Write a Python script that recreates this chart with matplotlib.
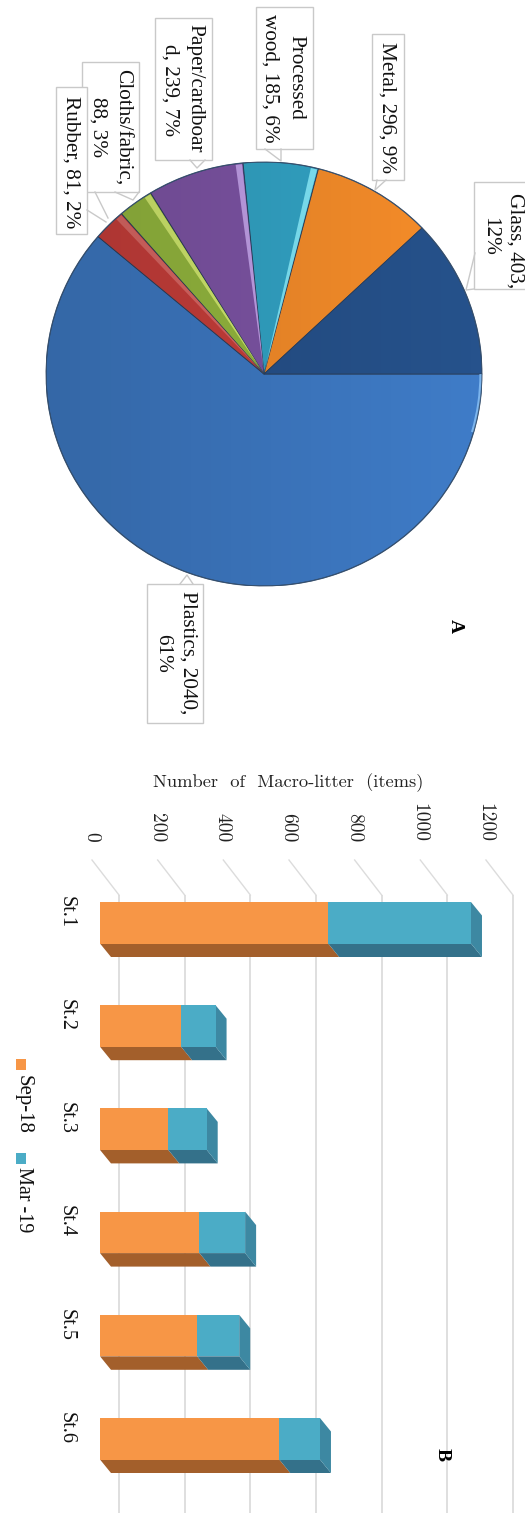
import numpy as np
import matplotlib
matplotlib.use('Agg')
import matplotlib.pyplot as plt
from matplotlib.patches import Wedge, Polygon, Rectangle

## ------------ data -----------
materials = ['Plastics', 'Rubber', 'Cloths/fabric', 'Paper/cardboard', 'Processed wood', 'Metal', 'Glass']
items = [2040, 81, 88, 239, 185, 296, 403]

stations = ['St.1', 'St.2', 'St.3', 'St.4', 'St.5', 'St.6']
sep18 = [695, 247, 208, 303, 296, 546]
mar19 = [435, 105, 117, 139, 128, 124]
ticks = [0, 200, 400, 600, 800, 1000, 1200]

## ------------ styles -----------
W, H = 525, 1513
serif = 'Liberation Serif'
pie_colors = ['#3f7cc8', '#cc403c', '#98bc40', '#8056a8', '#33a6c8', '#f88e2a', '#26528c']
light_colors = ['#5b9be6', '#e06a66', '#d6ee70', '#c4a2ec', '#80e8fa', '#f9b066', '#3c6ca8']


def px_axes(left, top, right, bottom):
    return fig.add_axes([left / W, 1 - bottom / H, (right - left) / W, (bottom - top) / H])


fig = plt.figure(figsize=(W / 100, H / 100), dpi=100)

## ------------ pie -----------
ax = px_axes(46, 162, 482, 586)
wedges, _ = ax.pie(items, colors=pie_colors, startangle=0, counterclock=False, radius=1,
                   wedgeprops={'edgecolor': '#2b3f5c', 'linewidth': 0.6})
ax.set_aspect('auto')

# bright sliver on the right of each slice, comes from the bevel in the original
for w, c in zip(wedges[1:5], light_colors[1:5]):
    ax.add_patch(Wedge((0, 0), 0.995, w.theta1 + 0.3, w.theta1 + 2.0, color=c, lw=0, zorder=3))

# dark on the left, light on the right
shade = np.zeros((2, 256, 4))
shade[:, :, 3] = np.linspace(0.17, 0, 256)
im = ax.imshow(shade, extent=(-1, 1, -1, 1), aspect='auto', zorder=4)
im.set_clip_path(Wedge((0, 0), 1, 0, 360, transform=ax.transData))
ax.set_xlim(-1, 1)
ax.set_ylim(-1, 1)

# rim
ax.add_patch(Wedge((0, 0), 1, -16, 0, width=0.012, color='#8cc4f8', lw=0, alpha=0.8, zorder=5))
ax.add_patch(Wedge((0, 0), 1, 0, 360, fill=False, edgecolor='#34506f', lw=0.9, alpha=0.75, zorder=6))

## ------------ stacked bars -----------
px_per_item = 0.3283
bar_top, bar_step, bar_px = 902, 103.2, 41.5
ax2 = px_axes(100, 895, W, H)
ax2.set_xlim(0, (W - 100) / px_per_item)
y0 = bar_top + bar_px / 2
ax2.set_ylim((H - y0) / bar_step, (895 - y0) / bar_step)
ax2.axis('off')

# the gridlines sit on the back wall, the bars on the front plane
wall = 19 / px_per_item
for t in ticks:
    ax2.plot([t + wall, t + wall], [ax2.get_ylim()[0], ax2.get_ylim()[1]], color='#dcdcdc', lw=1.3, zorder=1)
    ax2.plot([t + wall, t + wall - 27 / px_per_item],
             [ax2.get_ylim()[1], ax2.get_ylim()[1] - 35 / bar_step],
             color='#dcdcdc', lw=1.0, clip_on=False, zorder=1)
    ax2.text(t + wall - 28 / px_per_item, ax2.get_ylim()[1] - 53 / bar_step, str(t), rotation=-90,
             family='cmr10', fontsize=14, ha='center', va='bottom', color='#222222')

h = bar_px / bar_step
ddx, ddy = 11 / px_per_item, 13.5 / bar_step
pos = np.arange(len(stations))
ax2.barh(pos, sep18, height=h, color='#f79646', zorder=3)
ax2.barh(pos, mar19, left=sep18, height=h, color='#4bacc6', zorder=3)
for i, (a, b) in enumerate(zip(sep18, mar19)):
    yb = i + h / 2
    ax2.add_patch(Polygon([(0, yb), (a, yb), (a + ddx, yb + ddy), (ddx, yb + ddy)], color='#a35f2b', lw=0, zorder=2))
    ax2.add_patch(Polygon([(a, yb), (a + b, yb), (a + b + ddx, yb + ddy), (a + ddx, yb + ddy)],
                          color='#34718a', lw=0, zorder=2))
    ax2.add_patch(Polygon([(a + b, yb - h), (a + b + ddx, yb - h + ddy), (a + b + ddx, yb + ddy), (a + b, yb)],
                          color='#3d88a2', lw=0, zorder=2))
    ax2.text(-34 / px_per_item, i - 11 / bar_step, stations[i], rotation=-90, family=serif,
             fontsize=14.5, ha='center', va='center', color='#111111')

## ------------ callouts and loose text (pixel coordinates) -----------
ov = fig.add_axes([0, 0, 1, 1], zorder=10)
ov.set_xlim(0, W)
ov.set_ylim(H, 0)
ov.axis('off')
ov.patch.set_alpha(0)

boxes = [(474, 182, 532, 289), (372, 34, 404, 180), (256, 7, 313, 149), (155, 18, 212, 160),
         (82, 62, 139, 192), (56, 87, 87, 234), (147, 584, 203, 723)]
pointers = [[(475, 253), (466, 290), (474, 289)], [(377, 180), (375, 190), (386, 180)],
            [(265, 149), (281, 161), (281, 149)], [(190, 160), (197, 168), (205, 160)],
            [(115, 192), (133, 200), (139, 192)], [(95, 192), (108, 218)],
            [(87, 210), (106, 222)], [(180, 584), (187, 575), (193, 584)]]
for x0, y0_, x1, y1 in boxes:
    ov.add_patch(Rectangle((x0, y0_), x1 - x0, y1 - y0_, facecolor='white', edgecolor='#c9c9c9', lw=1.0, clip_on=True))
for p in pointers:
    ov.plot(*zip(*p), color='#c9c9c9', lw=1.0)

labels = [('Glass, 403,', 515, 241), ('12%', 490, 236), ('Metal, 296, 9%', 387, 108),
          ('Processed', 296, 77), ('wood, 185, 6%', 270, 78), ('Paper/cardboar', 195, 88),
          ('d, 239, 7%', 170, 90), ('Cloths/fabric,', 122, 127), ('88, 3%', 98, 127),
          ('Rubber, 81, 2%', 71, 162), ('Plastics, 2040,', 188, 653), ('61%', 163, 653)]
for txt, x, y in labels:
    ov.text(x, y, txt, rotation=-90, family=serif, fontsize=15.3, ha='center', va='center', color='#111111')

ov.text(288, 783, 'Number  of  Macro-litter  (items)', family='cmr10', fontsize=13.3, ha='center', va='center', color='#222222')
ov.text(455, 626, 'A', rotation=-90, family=serif, fontsize=14, fontweight='bold', ha='center', va='center')
ov.text(442, 1455, 'B', rotation=-90, family=serif, fontsize=14, fontweight='bold', ha='center', va='center')

# legend
ov.add_patch(Rectangle((16, 1059), 10, 11, color='#f79646', lw=0))
ov.text(23, 1104, 'Sep-18', rotation=-90, family=serif, fontsize=15, ha='center', va='center', color='#111111')
ov.add_patch(Rectangle((16, 1153), 10, 11, color='#4bacc6', lw=0))
ov.text(23, 1200, 'Mar -19', rotation=-90, family=serif, fontsize=14.5, ha='center', va='center', color='#111111')

fig.savefig('out.png', dpi=100)
